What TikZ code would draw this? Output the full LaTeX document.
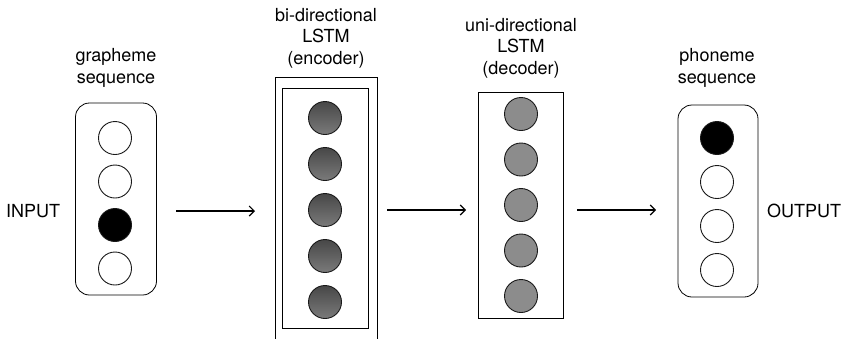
\documentclass[tikz,border=0pt]{standalone}
\usepackage{fontspec}
\setmainfont{TeX Gyre Heros}
\usetikzlibrary{arrows.meta}
\begin{document}
\begin{tikzpicture}[x=1pt,y=-1pt,
  lbl/.style={font=\fontsize{18}{21.5}\selectfont, align=center, inner sep=0pt},
  cell/.style={circle, draw=black!90, line width=0.9pt, minimum size=33pt, inner sep=0pt},
  white cell/.style={cell, fill=white},
  black cell/.style={cell, fill=black},
  enc cell/.style={cell, top color=black!72, bottom color=black!52},
  dec cell/.style={cell, fill=black!45},
  frame/.style={draw, line width=0.8pt},
  flow/.style={-{Straight Barb[length=5pt,width=10pt]}, line width=1.1pt}
]
\useasboundingbox (0,0) rectangle (842,338);

% grapheme
\node[frame, rounded corners=14pt, minimum width=81pt, minimum height=192pt] (gbox) at (116,199) {};
\node[white cell] (g1) at (115,138) {};
\node[white cell] (g2) at (115,181.5) {};
\node[black cell] (g3) at (115,225) {};
\node[white cell] (g4) at (115,268.5) {};
\node[lbl] (glab) at (116,68) {grapheme\\sequence};

% encoder
\node[frame, minimum width=102pt, minimum height=262pt] (eout) at (326,208) {};
\node[frame, minimum width=86pt, minimum height=240pt] (ein) at (325.5,208) {};
\node[enc cell] (e1) at (325,118) {};
\node[enc cell] (e2) at (325,164) {};
\node[enc cell] (e3) at (325,210) {};
\node[enc cell] (e4) at (325,256) {};
\node[enc cell] (e5) at (325,302) {};
\node[lbl] (elab) at (326,38) {bi-directional\\LSTM\\(encoder)};

% decoder
\node[frame, minimum width=85pt, minimum height=226pt] (dbox) at (520.5,205) {};
\node[dec cell] (d1) at (521,114) {};
\node[dec cell] (d2) at (521,159.5) {};
\node[dec cell] (d3) at (521,205) {};
\node[dec cell] (d4) at (521,250.5) {};
\node[dec cell] (d5) at (521,296) {};
\node[lbl] (dlab) at (521,48) {uni-directional\\LSTM\\(decoder)};

% phoneme
\node[frame, rounded corners=14pt, minimum width=80pt, minimum height=192pt] (pbox) at (718,201) {};
\node[black cell] (p1) at (717,138) {};
\node[white cell] (p2) at (717,182) {};
\node[white cell] (p3) at (717,226) {};
\node[white cell] (p4) at (717,270) {};
\node[lbl] (plab) at (717,68) {phoneme\\sequence};

% side labels
\node[lbl, anchor=west] (in) at (6,211) {INPUT};
\node[lbl, anchor=west] (out) at (767,211) {OUTPUT};

% arrows
\coordinate (a1s) at (176,211); \coordinate (a1e) at (255,211);
\coordinate (a2s) at (387,210); \coordinate (a2e) at (466,210);
\coordinate (a3s) at (577,210); \coordinate (a3e) at (656,210);
\draw[flow] (a1s) -- (a1e);
\draw[flow] (a2s) -- (a2e);
\draw[flow] (a3s) -- (a3e);
\end{tikzpicture}
\end{document}
